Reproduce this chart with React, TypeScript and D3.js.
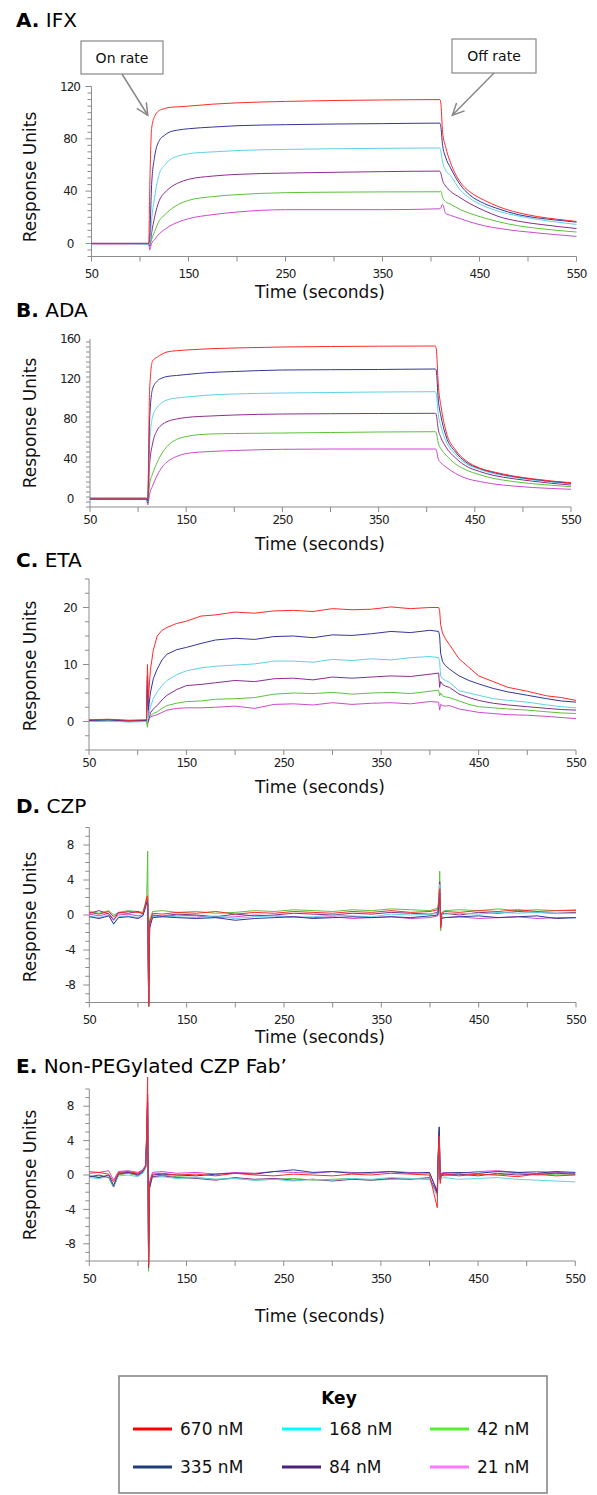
import React from 'react';
import * as d3 from 'd3';

// concentrations, legend order and colours
const concLabels = ['670 nM', '335 nM', '168 nM', '84 nM', '42 nM', '21 nM'];
const lineColors = ['#ff2a2a', '#35359c', '#5fd2e6', '#8a2e8e', '#5cc23a', '#cc4acc'];
const keyColors = ['#ff0000', '#1f3f78', '#00ffff', '#4a2478', '#55ee33', '#ff77ff'];

// time grid (s) shared by IFX and ADA
const tBind = [50, 109, 110, 112, 115, 120, 125, 130, 140, 150, 175, 200, 250, 300, 350, 409, 410, 412, 415, 420, 430, 440, 455, 470, 490, 510, 530, 550];

// A. IFX
const ifx670 = [0, 0, 40, 88, 97, 101.7, 103, 104, 104.5, 105, 106.5, 107.5, 108.6, 109.3, 109.7, 110, 108, 85, 74, 62, 47, 39.5, 33, 28, 23.5, 20.5, 18.5, 16.8];
const ifx335 = [0, 0, 5, 45, 66, 78.8, 82.5, 85, 86.8, 87.7, 89, 90, 90.8, 91.3, 91.6, 92, 90, 75, 66, 58, 45, 37, 30.5, 26.3, 22, 19.5, 17.8, 16.3];
const ifx168 = [0, -0.5, -1, 18, 35, 53.5, 59.5, 63.5, 67, 68.6, 70, 71, 71.9, 72.4, 72.7, 73, 71, 62, 56, 52, 41, 34.5, 28.5, 24.5, 21, 18.3, 16.3, 14.5];
const ifx84 = [0, 0, -2, 8, 20, 33, 38.5, 42, 46.5, 49, 51.5, 52.8, 53.8, 54.4, 54.9, 55.3, 54, 48, 44, 40, 35, 30.5, 25, 20.5, 17, 14.8, 13, 11.4];
const ifx42 = [0, 0, -2, 3, 9, 17.6, 21.5, 25, 30, 32.9, 35.8, 37.3, 38.8, 39.2, 39.4, 39.5, 40, 35, 32, 30, 26, 23, 19.5, 16.5, 13.5, 11.5, 10, 8.7];
const ifx21 = [-0.5, -0.5, -5, 0, 3, 7.5, 10.5, 13, 16.5, 18.9, 22, 24, 25.8, 25.8, 25.8, 26.5, 27, 30, 23, 21.5, 19, 16.5, 13.5, 11.5, 9.5, 8, 6.6, 5.4];

// B. ADA
const ada670 = [1, 1, 0, 110, 138, 142, 145, 147, 148.3, 149, 150.3, 151, 152, 152.5, 152.8, 153, 150, 115, 92, 68, 49, 39, 31, 27, 23, 20.2, 18, 16.3];
const ada335 = [0, 0, -2, 80, 110, 118, 121, 122.5, 123.5, 124.5, 126.5, 127.5, 129, 129.3, 129.5, 130, 128, 100, 82, 63, 47, 37.5, 30.5, 26.3, 22.5, 19.8, 17.5, 15.7];
const ada168 = [0, 0, -3, 55, 82, 92, 96.5, 99, 101, 102, 104, 105, 106, 106.5, 107, 107.3, 105, 85, 72, 58, 44.5, 36, 29.5, 25.3, 21.7, 19, 16.8, 15];
const ada84 = [0, 0, -4, 35, 55, 69, 74.5, 77.3, 80, 81.5, 83, 84, 85, 85.3, 85.5, 85.7, 84, 70, 61, 52, 41, 33.5, 27.5, 23.5, 20.3, 17.8, 15.7, 14];
const ada42 = [0, 0, -5, 15, 25, 37, 46, 52.5, 59.5, 62.5, 65, 65.5, 66, 66.5, 67, 67.3, 66, 56, 50, 44, 35, 29.5, 24.3, 20.5, 17.5, 15.3, 13.7, 12.3];
const ada21 = [0, 0, -6, 5, 13, 24, 32, 37, 42.5, 45.5, 47.5, 48.5, 49.7, 50, 50, 50, 49, 40, 36, 32, 25.5, 21, 17.5, 15, 13, 11.5, 10.5, 9.7];

// C. ETA
const tEta = [50, 70, 90, 109, 110, 111, 113, 116, 120, 125, 130, 140, 150, 165, 180, 200, 220, 240, 260, 280, 300, 320, 340, 360, 380, 400, 409, 410, 411, 413, 416, 420, 430, 440, 450, 465, 480, 500, 520, 535, 550];
const eta670 = [0.3, 0.4, 0.2, 0.3, 10, 4, 9, 12.5, 15, 16, 16.5, 17.2, 17.6, 18.5, 18.7, 19.2, 19, 19.4, 19.5, 19.3, 19.8, 19.6, 19.7, 20.1, 19.8, 20, 20, 19.5, 17, 15.5, 14.5, 13.5, 11, 9.5, 8, 7, 6, 5.3, 4.5, 4.2, 3.7];
const eta335 = [0.2, 0.3, 0.1, 0.2, 8, 2, 5, 7.5, 9.2, 10.8, 11.8, 12.6, 13, 13.7, 14.3, 14.6, 14.4, 14.9, 15, 14.7, 15.2, 15.1, 15.4, 15.8, 15.6, 16, 15.8, 15, 12, 10.5, 9.8, 9.2, 8, 7.2, 6.6, 5.8, 5.2, 4.6, 4, 3.6, 3.4];
const eta168 = [0, 0.1, -0.1, 0, 1, 0.5, 2.5, 4, 5.2, 6.3, 7.2, 8.2, 8.9, 9.4, 9.7, 9.9, 10.1, 10.6, 10.6, 10.4, 10.9, 10.7, 11, 10.8, 11.2, 11.4, 11.2, 10.5, 8, 7.5, 7.2, 6.9, 5.4, 5, 4.6, 4, 3.7, 3.4, 2.9, 2.6, 2.4];
const eta84 = [0.2, 0.3, 0.2, 0.2, 8, 0, 1.5, 2.2, 2.8, 3.8, 4.6, 5.6, 6.3, 6.5, 6.8, 7.2, 7, 7.5, 7.6, 7.3, 7.8, 7.6, 7.8, 8, 7.9, 8.3, 8.5, 6, 7, 6.5, 6.2, 6, 4.8, 4.2, 3.7, 3.2, 2.9, 2.6, 2.3, 2.1, 2];
const eta42 = [0.1, 0.2, 0, 0.1, -1, 0.5, 1, 1.4, 1.7, 2.3, 2.8, 3.2, 3.5, 3.6, 3.9, 4, 4.2, 4.8, 5, 4.9, 5.1, 4.8, 5, 5.1, 4.9, 5.3, 5.5, 4.5, 5, 4.5, 4.3, 4.2, 3.6, 3, 2.6, 2.4, 2.2, 2, 1.7, 1.5, 1.4];
const eta21 = [0, 0.1, 0, 0, -0.5, 0.3, 0.8, 1, 1.2, 1.6, 2, 2.3, 2.4, 2.4, 2.5, 2.7, 2.3, 3, 3.1, 2.9, 3.3, 3, 3.2, 3.3, 3.1, 3.5, 3.4, 2, 3, 2.8, 2.7, 2.8, 2.2, 1.9, 1.6, 1.4, 1.2, 1.1, 0.9, 0.7, 0.5];

// D. CZP and E. Fab' share one time grid
const tNull = [50, 60, 70, 75, 80, 90, 100, 105, 108, 109, 110, 111, 112, 115, 125, 140, 160, 180, 200, 220, 240, 260, 280, 300, 320, 340, 360, 380, 400, 408, 409, 410, 411, 412, 415, 430, 450, 470, 490, 510, 530, 550];
const czp670 = [0.3, 0.1, 0.4, -0.2, 0.2, 0.4, 0.3, 0.2, 1.4, 2.0, 2.2, -10.4, -1.0, 0.2, 0.1, 0.3, 0.2, 0.4, 0.1, 0.3, 0.2, 0.4, 0.3, 0.2, 0.4, 0.3, 0.5, 0.3, 0.4, 0.6, 1.5, 3.0, -1.5, 0.2, 0.4, 0.3, 0.5, 0.4, 0.6, 0.4, 0.5, 0.5];
const czp335 = [-0.2, -0.4, -0.1, -1.0, -0.3, -0.2, -0.4, -0.1, 1.0, 1.5, 1.2, -10.2, -1.5, -0.3, -0.2, -0.3, -0.4, -0.3, -0.6, -0.4, -0.3, -0.2, -0.4, -0.3, -0.2, -0.3, -0.2, -0.3, -0.1, 0.0, 1.0, 2.5, -1.2, -0.4, -0.3, -0.2, -0.1, -0.3, -0.2, -0.1, -0.4, -0.3];
const czp168 = [-0.1, -0.3, 0.0, -1.1, -0.2, -0.1, -0.3, 0.0, 1.1, 1.6, 1.5, -10.3, -1.2, -0.2, -0.1, -0.2, -0.3, -0.1, -0.4, -0.2, -0.1, -0.3, -0.2, 0.0, -0.1, -0.2, 0.1, 0.0, 0.1, 0.2, 1.2, 3.5, -1.0, 0.0, 0.1, 0.2, 0.1, 0.3, 0.2, 0.3, 0.2, 0.2];
const czp84 = [0.2, 0.5, 0.1, -0.6, 0.3, 0.2, 0.4, 0.1, 1.2, 1.8, 1.5, -10.4, -0.8, 0.0, -0.1, 0.1, 0.0, -0.2, 0.1, -0.1, 0.0, 0.2, 0.1, 0.0, 0.2, 0.1, 0.3, 0.2, 0.1, 0.3, 1.3, 3.8, -1.3, 0.1, 0.2, 0.0, 0.3, 0.2, 0.4, 0.3, 0.2, 0.3];
const czp42 = [0.4, 0.2, 0.5, 0.0, 0.3, 0.5, 0.4, 0.3, 1.5, 2.2, 7.3, -10.5, -0.5, 0.4, 0.5, 0.3, 0.4, 0.2, 0.3, 0.5, 0.4, 0.6, 0.5, 0.4, 0.6, 0.5, 0.7, 0.6, 0.5, 0.8, 1.8, 5.0, -1.8, 0.3, 0.5, 0.6, 0.5, 0.7, 0.5, 0.6, 0.5, 0.6];
const czp21 = [0.1, -0.1, 0.2, -0.5, 0.0, 0.1, -0.1, 0.0, 1.0, 1.6, 1.8, -10.5, -0.8, -0.1, -0.2, 0.0, -0.1, -0.3, -0.2, 0.0, -0.1, -0.2, -0.3, -0.2, -0.4, -0.3, -0.2, -0.4, -0.3, -0.1, 1.0, 3.2, -1.0, -0.2, -0.3, -0.2, -0.4, -0.3, -0.2, -0.4, -0.3, -0.3];

const fab670 = [0.2, 0.3, 0.1, -0.8, 0.3, 0.4, 0.2, 0.5, 1.0, 5.0, 11.4, -10.5, -1.0, 0.1, 0.2, 0.0, 0.1, -0.1, 0.2, 0.0, -0.1, 0.1, 0.0, -0.1, 0.1, 0.0, 0.2, 0.1, 0.0, -3.8, 2.0, 4.5, -1.0, 0.0, 0.1, -0.1, 0.1, 0.0, -0.2, 0.1, -0.1, 0.0];
const fab335 = [-0.1, -0.3, 0.0, -1.2, 0.2, 0.3, 0.1, 0.4, 1.0, 4.5, 9.4, -10.5, -1.5, 0.0, 0.1, 0.0, -0.1, 0.1, 0.2, 0.1, 0.4, 0.6, 0.3, 0.4, 0.2, 0.3, 0.4, 0.2, 0.3, -2.0, 2.5, 5.6, -0.5, 0.1, 0.2, 0.3, 0.2, 0.4, 0.3, 0.2, 0.4, 0.3];
const fab168 = [-0.3, -0.4, -0.2, -1.3, -0.1, 0.0, -0.2, 0.2, 0.8, 3.5, 7.0, -10.0, -1.2, -0.3, -0.2, -0.4, -0.3, -0.5, -0.4, -0.6, -0.5, -0.7, -0.5, -0.6, -0.4, -0.5, -0.3, -0.4, -0.5, -2.5, 1.5, 4.0, -0.8, -0.4, -0.3, -0.5, -0.4, -0.3, -0.5, -0.6, -0.7, -0.8];
const fab84 = [-0.2, 0.0, -0.3, -1.4, 0.1, 0.3, 0.0, 0.3, 0.9, 4.0, 8.5, -10.8, -1.3, -0.2, -0.1, -0.3, -0.4, -0.6, -0.3, -0.5, -0.4, -0.6, -0.5, -0.7, -0.5, -0.6, -0.4, -0.5, -0.3, -2.2, 2.2, 5.0, -0.6, -0.1, 0.0, 0.1, -0.1, 0.2, 0.0, 0.1, 0.2, 0.1];
const fab42 = [-0.2, -0.1, -0.3, -1.4, 0.0, 0.2, -0.1, 0.3, 1.0, 4.0, 8.0, -11.2, -1.5, -0.2, 0.0, -0.2, -0.3, -0.5, -0.4, -0.6, -0.5, -0.4, -0.6, -0.5, -0.4, -0.6, -0.5, -0.4, -0.5, -2.0, 2.5, 5.5, -0.5, 0.0, -0.1, 0.0, 0.1, 0.0, 0.2, 0.0, 0.1, 0.1];
const fab21 = [0.4, 0.3, 0.5, -0.6, 0.4, 0.5, 0.3, 0.6, 1.2, 4.5, 9.0, -10.2, -0.8, 0.3, 0.4, 0.2, 0.3, 0.1, 0.3, 0.2, 0.4, 0.3, 0.2, 0.4, 0.3, 0.2, 0.4, 0.3, 0.2, -1.8, 2.0, 5.2, -0.4, 0.2, 0.3, 0.2, 0.4, 0.5, 0.3, 0.4, 0.3, 0.2];

const FONT = '"DejaVu Sans", Verdana, sans-serif';
const AXIS = '#8c8c8c';

const panels = [
  { tag: 'A.', name: 'IFX', times: tBind, series: [ifx670, ifx335, ifx168, ifx84, ifx42, ifx21], smooth: true,
    yDomain: [-10, 120], yMajor: [0, 40, 80, 120], yStep: 5,
    xRange: [91.5, 576.5], yRange: [256.5, 86.5], titleY: 27, tickY: 278, axisTitleY: 298, labelY: 177 },
  { tag: 'B.', name: 'ADA', times: tBind, series: [ada670, ada335, ada168, ada84, ada42, ada21], smooth: true,
    yDomain: [-8, 160], yMajor: [0, 40, 80, 120, 160], yStep: 5,
    xRange: [90, 571], yRange: [507, 339], titleY: 317, tickY: 524, axisTitleY: 550, labelY: 423 },
  { tag: 'C.', name: 'ETA', times: tEta, series: [eta670, eta335, eta168, eta84, eta42, eta21], smooth: false,
    yDomain: [-5, 25], yMajor: [0, 10, 20], yStep: 2.5,
    xRange: [89, 576], yRange: [750, 579], titleY: 567, tickY: 767, axisTitleY: 793, labelY: 666 },
  { tag: 'D.', name: 'CZP', times: tNull, series: [czp670, czp335, czp168, czp84, czp42, czp21], smooth: false,
    yDomain: [-10, 10], yMajor: [-8, -4, 0, 4, 8], yStep: 1,
    xRange: [89.3, 576], yRange: [1002.5, 827.5], titleY: 813, tickY: 1024, axisTitleY: 1043, labelY: 917 },
  { tag: 'E.', name: 'Non-PEGylated CZP Fab\u2019', times: tNull, series: [fab670, fab335, fab168, fab84, fab42, fab21], smooth: false,
    yDomain: [-10, 10], yMajor: [-8, -4, 0, 4, 8], yStep: 1,
    xRange: [89.3, 575.3], yRange: [1261, 1089], titleY: 1073, tickY: 1283, axisTitleY: 1322, labelY: 1175 },
];

const callouts = [
  { label: 'On rate', box: [81, 41, 82, 33], tip: [108, 98] },
  { label: 'Off rate', box: [452, 39, 84, 34], tip: [422, 98] },
];

function Panel({ p, withCallouts }: any) {
  const x = d3.scaleLinear().domain([50, 550]).range(p.xRange);
  const y = d3.scaleLinear().domain(p.yDomain).range(p.yRange);
  const line = d3.line<[number, number]>()
    .x(d => x(d[0]))
    .y(d => y(d[1]))
    .curve(p.smooth ? d3.curveMonotoneX : d3.curveLinear);

  const yTicks = d3.range(p.yDomain[0], p.yDomain[1] + 1e-6, p.yStep)
    .filter((v: number) => Math.abs(v - Math.round(v / p.yStep) * p.yStep) < 1e-6 || true);
  const xTicks = d3.range(50, 551, 50);
  const xLabels = d3.range(50, 551, 100);
  const x0 = p.xRange[0];
  const yb = p.yRange[0];

  return (
    <g>
      <text x={16} y={p.titleY} fontFamily={FONT} fontSize={20} fill="#000">
        <tspan fontWeight="bold">{p.tag}</tspan> {p.name}
      </text>

      {/* y axis */}
      <line x1={x0} x2={x0} y1={p.yRange[1]} y2={yb} stroke={AXIS} strokeWidth={1} />
      {yTicks.map((v: number, i: number) => {
        const major = p.yMajor.some((m: number) => Math.abs(m - v) < 1e-6);
        return <line key={i} x1={x0 - (major ? 6 : 4)} x2={x0} y1={y(v)} y2={y(v)} stroke={AXIS} strokeWidth={1} />;
      })}
      {p.yMajor.map((v: number) => (
        <text key={v} x={70} y={y(v)} dy="0.35em" textAnchor="middle" fontFamily={FONT} fontSize={12}
          letterSpacing={-1} fill="#222">{v}</text>
      ))}

      {/* x axis */}
      <line x1={x0} x2={p.xRange[1]} y1={yb} y2={yb} stroke={AXIS} strokeWidth={1} />
      {xTicks.map((t: number) => (
        <line key={t} x1={x(t)} x2={x(t)} y1={yb} y2={yb + 5} stroke={AXIS} strokeWidth={1} />
      ))}
      {xLabels.map((t: number) => (
        <text key={t} x={x(t)} y={p.tickY} textAnchor="middle" fontFamily={FONT} fontSize={12}
          letterSpacing={-1} fill="#222">{t}</text>
      ))}

      <text x={320} y={p.axisTitleY} textAnchor="middle" fontFamily={FONT} fontSize={17} fill="#111">Time (seconds)</text>
      <text transform={`translate(36,${p.labelY}) rotate(-90)`} textAnchor="middle" fontFamily={FONT}
        fontSize={17} fill="#111">Response Units</text>

      {/* sensorgrams, lowest concentration first so 670 nM sits on top */}
      {p.series.map((vals: number[], i: number) => i).reverse().map((i: number) => {
        const vals = p.series[i];
        const n = Math.min(vals.length, p.times.length);
        const pts: [number, number][] = d3.range(n).map((k: number) => [p.times[k], vals[k]]);
        return <path key={i} d={line(pts) || ''} fill="none" stroke={lineColors[i]} strokeWidth={1} />;
      })}

      {withCallouts && callouts.map((c, i) => {
        const [bx, by, bw, bh] = c.box;
        const sx = bx + bw / 2, sy = by + bh;
        const tx = x(c.tip[0]), ty = y(c.tip[1]);
        const ang = Math.atan2(ty - sy, tx - sx);
        const L = 13, spread = Math.PI / 7;
        const a1 = [tx - L * Math.cos(ang - spread), ty - L * Math.sin(ang - spread)];
        const a2 = [tx - L * Math.cos(ang + spread), ty - L * Math.sin(ang + spread)];
        return (
          <g key={i}>
            <rect x={bx} y={by} width={bw} height={bh} fill="#fff" stroke="#888" strokeWidth={1.2} />
            <text x={sx} y={by + bh / 2} dy="0.36em" textAnchor="middle" fontFamily={FONT} fontSize={14} fill="#111">{c.label}</text>
            <line x1={sx} y1={sy} x2={tx} y2={ty} stroke="#888" strokeWidth={1.5} />
            <polyline points={`${a1[0]},${a1[1]} ${tx},${ty} ${a2[0]},${a2[1]}`} fill="none" stroke="#888" strokeWidth={1.5} />
          </g>
        );
      })}
    </g>
  );
}

function Legend() {
  const colX = [133, 282, 430];
  const rowY = [1429, 1467];
  return (
    <g>
      <rect x={119} y={1376} width={428} height={117} fill="#fff" stroke="#888" strokeWidth={1.6} />
      <text x={339} y={1398} dy="0.36em" textAnchor="middle" fontFamily={FONT} fontWeight="bold" fontSize={17} fill="#000">Key</text>
      {concLabels.map((lab, i) => {
        const cx = colX[Math.floor(i / 2)];
        const cy = rowY[i % 2];
        return (
          <g key={lab}>
            <line x1={cx} x2={cx + 39} y1={cy} y2={cy} stroke={keyColors[i]} strokeWidth={3} />
            <text x={cx + 47} y={cy} dy="0.36em" fontFamily={FONT} fontSize={17} fill="#111">{lab}</text>
          </g>
        );
      })}
    </g>
  );
}

export default function App() {
  return (
    <svg width={597} height={1495} style={{ position: 'absolute', left: 0, top: 0, background: '#fff' }}>
      <rect width={597} height={1495} fill="#fff" />
      {panels.map((p, i) => <Panel key={p.tag} p={p} withCallouts={i === 0} />)}
      <Legend />
    </svg>
  );
}
